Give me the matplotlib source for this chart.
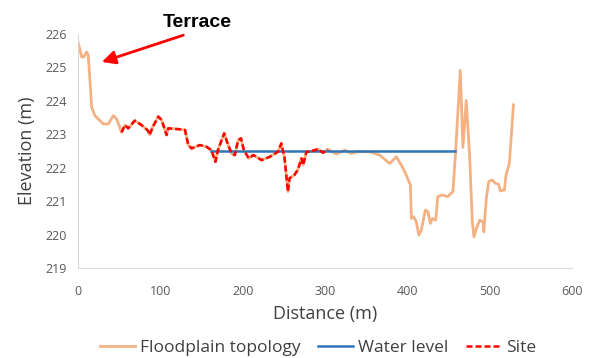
import matplotlib.pyplot as plt
from matplotlib.lines import Line2D

# floodplain profile (distance m, elevation m)
floodplain_x = [0, 4.5, 7, 10.5, 12.5, 16.6, 20.6, 30.7, 36.8, 42.9, 47, 53,
                57, 61, 69, 77, 85, 87, 91, 97.5, 101.6, 107.6, 109.6, 124, 130,
                134, 138, 148, 156, 162, 167, 170, 177.6, 181.7, 186.5, 190.5,
                194.6, 198, 201.5, 207.5, 212.8, 216.8, 223, 233, 243, 247, 251,
                255, 257, 263, 267, 271.5, 273.4, 277.5, 281.5, 291.6, 297.7,
                303.8, 314, 324, 332, 340, 354, 366.5, 378.6, 386.7, 392.8, 397,
                403.8, 405, 407.8, 411, 414, 417, 422, 425, 428, 430.5, 434.5,
                437, 442.5, 449, 455.5, 458.7, 464.4, 467.6, 471.6, 475.7, 479,
                481, 484, 488, 492, 493, 496, 499, 503, 507, 511, 513, 518, 520,
                524, 529]
floodplain_y = [225.75, 225.3, 225.3, 225.45, 225.35, 223.8, 223.55, 223.3, 223.3,
                223.55, 223.45, 223.05, 223.27, 223.17, 223.4, 223.27, 223.1,
                222.97, 223.22, 223.52, 223.42, 222.97, 223.17, 223.14, 223.12,
                222.67, 222.57, 222.67, 222.62, 222.52, 222.17, 222.52, 223.02,
                222.72, 222.42, 222.37, 222.82, 222.87, 222.52, 222.27, 222.37,
                222.32, 222.22, 222.32, 222.47, 222.72, 222.27, 221.28, 221.68,
                221.78, 221.93, 222.27, 222.07, 222.47, 222.47, 222.55, 222.44,
                222.54, 222.4, 222.52, 222.42, 222.47, 222.47, 222.37, 222.12,
                222.32, 222.07, 221.87, 221.48, 220.48, 220.53, 220.38, 219.98,
                220.13, 220.73, 220.68, 220.33, 220.48, 220.43, 221.13, 221.18,
                221.13, 221.28, 222.47, 224.9, 222.6, 224.0, 222.37, 220.38,
                219.93, 220.18, 220.43, 220.38, 220.08, 221.08, 221.58, 221.63,
                221.53, 221.5, 221.3, 221.33, 221.78, 222.12, 223.87]

water_x = [162, 458]
water_y = [222.5, 222.5]

site_start = 53
site_end = 304

site_x = [x for x in floodplain_x if site_start <= x <= site_end]
site_y = [y for x, y in zip(floodplain_x, floodplain_y) if site_start <= x <= site_end]

orange = '#F4B183'
blue = '#2E75B6'
red = '#FF0000'
grey = '#595959'
dash = (0, (2.4, 1.2))

plt.rcParams['font.family'] = ['Open Sans', 'DejaVu Sans']

fig = plt.figure(figsize=(5.89, 3.58), dpi=100)
ax = fig.add_axes([0.1324, 0.2514, 0.8386, 0.655])

ax.plot(floodplain_x, floodplain_y, color=orange, lw=2, label='Floodplain topology')
ax.plot(water_x, water_y, color=blue, lw=1.8, label='Water level')
ax.plot(site_x, site_y, color=red, lw=1.8, ls=dash, label='Site')

ax.set_xlim(0, 600)
ax.set_ylim(219, 226)
ax.set_xticks(range(0, 601, 100))
ax.set_yticks(range(219, 227))

for s in ['top', 'right']:
    ax.spines[s].set_visible(False)
for s in ['left', 'bottom']:
    ax.spines[s].set_color('#D9D9D9')
ax.tick_params(length=0, labelsize=9, colors=grey, pad=8)
ax.tick_params(axis='x', pad=12)

ax.set_xlabel('Distance (m)', fontsize=13, color='#404040', labelpad=5)
ax.set_ylabel('Elevation (m)', fontsize=13, color='#404040', labelpad=7)

# terrace label and arrow
ax.text(145, 226.34, 'Terrace', fontsize=14, fontweight='bold',
        family='Liberation Sans', ha='center', va='center', clip_on=False)
ax.annotate('', xy=(29, 225.15), xytext=(128, 225.95), annotation_clip=False,
            arrowprops=dict(arrowstyle='-|>', color=red, lw=2,
                            mutation_scale=20, shrinkA=0, shrinkB=0))

handles = [Line2D([], [], color=orange, lw=2),
           Line2D([], [], color=blue, lw=1.8),
           Line2D([], [], color=red, lw=1.8, ls=dash)]
fig.legend(handles, ['Floodplain topology', 'Water level', 'Site'],
           loc='center', bbox_to_anchor=(0.54, 0.028), ncol=3, frameon=False,
           fontsize=12.5, handlelength=2.0, columnspacing=1.0, handletextpad=0.3,
           labelcolor='#404040')

fig.savefig('out.png', dpi=100)
